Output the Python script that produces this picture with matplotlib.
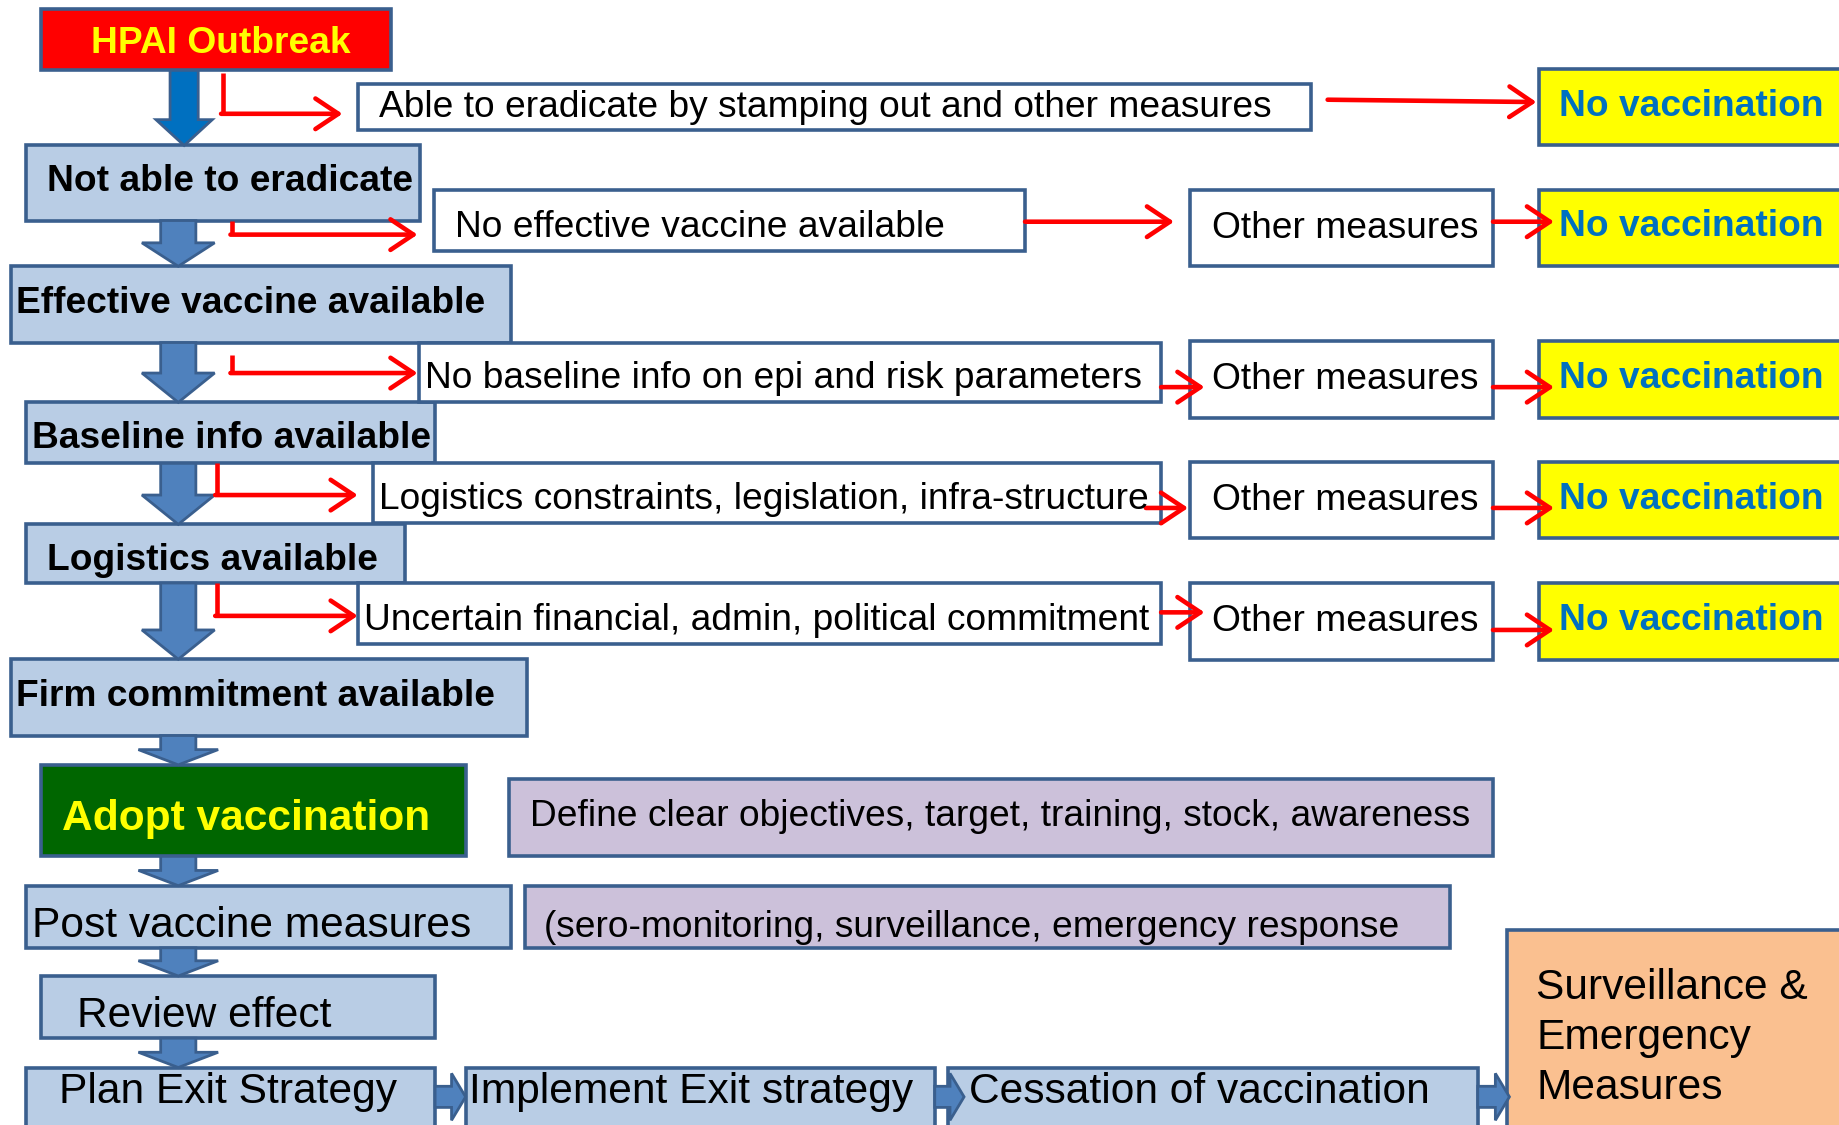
import matplotlib.pyplot as plt
from matplotlib.patches import Rectangle, Polygon, FancyArrowPatch

plt.rcParams['font.family'] = ['Liberation Sans', 'DejaVu Sans']

# texts of the flowchart
start_label = "HPAI Outbreak"
decision_steps = ["Not able to eradicate", "Effective vaccine available",
                  "Baseline info available", "Logistics available",
                  "Firm commitment available"]
barriers = ["Able to eradicate by stamping out and other measures",
            "No effective vaccine available",
            "No baseline info on epi and risk parameters",
            "Logistics constraints, legislation, infra-structure",
            "Uncertain financial, admin, political commitment"]
fallback = "Other measures"
outcome_no = "No vaccination"
adopt_label = "Adopt vaccination"
adopt_notes = ["Define clear objectives, target, training, stock, awareness",
               "(sero-monitoring, surveillance, emergency response"]
post_steps = ["Post vaccine measures", "Review effect", "Plan Exit Strategy"]
exit_steps = ["Implement Exit strategy", "Cessation of vaccination"]
final_label = "Surveillance &\nEmergency\nMeasures"

EDGE = '#3A5F8E'
LBLUE = '#B9CDE5'
ARROW = '#4F81BD'
RED = '#FF0000'
SMALL, BIG = 26.7, 30.6

fig = plt.figure(figsize=(18.39, 11.25), dpi=100)
ax = fig.add_axes([0, 0, 1, 1])
ax.set_xlim(0, 1568)
ax.set_ylim(959, 0)
ax.axis('off')


def box(x0, y0, x1, y1, fc, lw=2.6):
    ax.add_patch(Rectangle((x0, y0), x1 - x0, y1 - y0, fc=fc, ec=EDGE, lw=lw, zorder=2))


def label(x, y, s, size=SMALL, weight='normal', color='black'):
    ax.text(x, y + 3, s, fontsize=size, fontweight=weight, color=color,
            ha='left', va='center', zorder=5)


def down_arrow(cx, y0, y1, sw=30, hw=62, hl=20, fc=ARROW):
    pts = [(cx - sw / 2, y0), (cx + sw / 2, y0), (cx + sw / 2, y1 - hl),
           (cx + hw / 2, y1 - hl), (cx, y1), (cx - hw / 2, y1 - hl),
           (cx - sw / 2, y1 - hl)]
    ax.add_patch(Polygon(pts, closed=True, fc=fc, ec=EDGE, lw=2, zorder=3))


def right_arrow(x0, x1, cy, sh=18, hh=40, hl=12):
    pts = [(x0, cy - sh / 2), (x1 - hl, cy - sh / 2), (x1 - hl, cy - hh / 2),
           (x1, cy), (x1 - hl, cy + hh / 2), (x1 - hl, cy + sh / 2),
           (x0, cy + sh / 2)]
    ax.add_patch(Polygon(pts, closed=True, fc=ARROW, ec=EDGE, lw=2, zorder=3))


def red_arrow(x0, y0, x1, y1):
    ax.add_patch(FancyArrowPatch((x0, y0), (x1, y1),
                                 arrowstyle='->,head_length=0.75,head_width=0.5',
                                 mutation_scale=22, color=RED, lw=3.3,
                                 shrinkA=0, shrinkB=0, zorder=4))


def elbow(x, y0, y1, x1):
    ax.plot([x, x], [y0, y1], color=RED, lw=3.3, solid_capstyle='butt', zorder=4)
    red_arrow(x - 1.5, y1, x1, y1)


# start
box(35, 8, 333, 60, '#FF0000')
label(78, 34, start_label, weight='bold', color='#FFFF00')

# decision column
step_boxes = [(22, 124, 358, 188), (9, 227, 436, 292), (22, 343, 371, 395),
              (22, 447, 345, 497), (9, 562, 449, 627)]
step_text = [(40, 152), (14, 256), (27, 371), (40, 475), (14, 591)]
for (b, t, s) in zip(step_boxes, step_text, decision_steps):
    box(*b, LBLUE)
    label(*t, s, weight='bold')

# barriers
barrier_boxes = [(305, 72, 1118, 111), (370, 162, 874, 214), (357, 292, 990, 343),
                 (318, 395, 990, 446), (305, 497, 990, 549)]
barrier_text = [(323, 89), (388, 191), (362, 320), (323, 423), (310, 526)]
for (b, t, s) in zip(barrier_boxes, barrier_text, barriers):
    box(*b, 'white')
    label(*t, s)

# other measures
other_boxes = [(1015, 162, 1273, 227), (1015, 291, 1273, 356),
               (1015, 394, 1273, 459), (1015, 497, 1273, 563)]
for b in other_boxes:
    box(*b, 'white')
    label(1033, (b[1] + b[3]) / 2 - 3, fallback)

# no vaccination
novac_boxes = [(1312, 59, 1590, 124), (1312, 162, 1590, 227), (1312, 291, 1590, 356),
               (1312, 394, 1590, 459), (1312, 497, 1590, 563)]
for b in novac_boxes:
    box(*b, '#FFFF00')
    label(1329, (b[1] + b[3]) / 2 - 4, outcome_no, weight='bold', color='#0070C0')

# adoption and follow-up
box(35, 652, 397, 730, '#006600')
label(53, 695, adopt_label, size=BIG, weight='bold', color='#FFFF00')
box(434, 664, 1273, 730, '#CCC1DA')
label(452, 693, adopt_notes[0])
box(448, 755, 1236, 808, '#CCC1DA')
label(464, 788, adopt_notes[1])

post_boxes = [(22, 755, 436, 808), (35, 832, 371, 885), (22, 910, 371, 975)]
post_text = [(27, 786), (66, 863), (50, 928)]
for (b, t, s) in zip(post_boxes, post_text, post_steps):
    box(*b, LBLUE)
    label(*t, s, size=BIG)

exit_boxes = [(397, 910, 797, 975), (808, 910, 1260, 975)]
exit_text = [(400, 928), (826, 928)]
for (b, t, s) in zip(exit_boxes, exit_text, exit_steps):
    box(*b, LBLUE)
    label(*t, s, size=BIG)

box(1285, 793, 1590, 975, '#FAC090')
ax.text(1310, 885, final_label, fontsize=BIG, ha='left', va='center',
        linespacing=1.32, zorder=5)

# block arrows
down_arrow(157, 60, 124, sw=24, hw=48, hl=22, fc='#0070C0')
down_arrow(152, 188, 227)
down_arrow(152, 292, 343, hl=25)
down_arrow(152, 395, 447, hl=25)
down_arrow(152, 497, 562, hl=25)
for y0, y1 in [(627, 652), (730, 755), (808, 832), (885, 910)]:
    down_arrow(152, y0, y1, hw=68, hl=13)
right_arrow(371, 397, 935)
right_arrow(797, 822, 935)
right_arrow(1260, 1287, 935)

# red arrows
elbow(190, 62, 97, 292)
red_arrow(1132, 85, 1310, 87)
elbow(198, 188, 200, 356)
red_arrow(874, 189, 1001, 189)
red_arrow(1273, 189, 1325, 189)
elbow(198, 303, 318, 356)
red_arrow(990, 330, 1027, 330)
red_arrow(1273, 330, 1325, 330)
elbow(185, 395, 422, 305)
red_arrow(977, 433, 1013, 433)
red_arrow(1273, 433, 1325, 433)
elbow(185, 497, 525, 305)
red_arrow(990, 522, 1027, 522)
red_arrow(1273, 537, 1325, 537)

fig.savefig('out.png', dpi=100)
